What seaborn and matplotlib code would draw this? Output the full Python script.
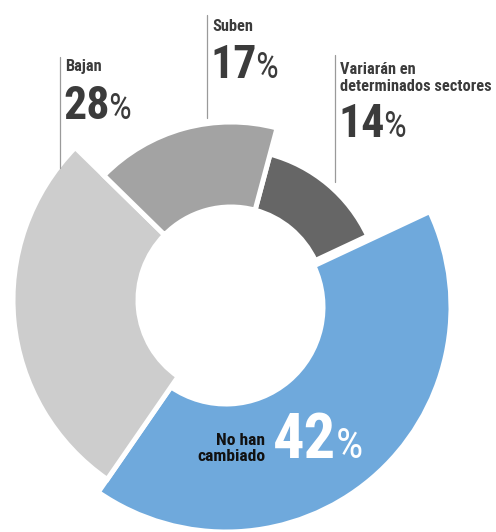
import matplotlib
matplotlib.use("Agg")
import matplotlib.pyplot as plt
from matplotlib import font_manager as fm
import seaborn as sns

# Respuestas: cómo han evolucionado los precios
categorias = ["Variarán en\ndeterminados sectores", "No han\ncambiado", "Bajan", "Suben"]
porcentajes = [14, 42, 28, 17]
etiquetas_pct = ["14", "42", "28", "17"]

sns.set_theme(style="white")

# narrow sans-serif for all labels, first one installed
_instaladas = {f.name for f in fm.fontManager.ttflist}
_preferidas = ["Roboto Condensed", "Archivo Narrow", "Barlow Semi Condensed",
               "PT Sans Narrow", "Liberation Sans Narrow"]
FUENTE = next((f for f in _preferidas if f in _instaladas), "DejaVu Sans")
plt.rcParams["font.family"] = [FUENTE, "DejaVu Sans"]

colores = ["#666666", "#6FA9DC", "#CDCDCD", "#A3A3A3"]
radios = [151, 225, 218, 178]      # outer radius of each ring segment (px)
r_int = 93                         # radius of the central hole (px)

W, H = 496, 532
fig = plt.figure(figsize=(W / 100, H / 100), dpi=100)
ax = fig.add_axes([0, 0, 1, 1])

cx, cy = 231, H - 300
wedges, _ = ax.pie(
    porcentajes,
    colors=colores,
    startangle=75,
    counterclock=False,
    center=(cx, cy),
    radius=max(radios),
    wedgeprops=dict(width=max(radios) - r_int, edgecolor="white", linewidth=3.6),
)
for w, r in zip(wedges, radios):
    w.set_radius(r)
    w.set_width(r - r_int)
# the blue segment sits slightly lower-left
wedges[1].set_center((cx - 5, cy - 7))
wedges[1].set_width(radios[1] - r_int - 4)

ax.set_xlim(0, W)
ax.set_ylim(0, H)
ax.set_aspect("equal")
ax.axis("off")

gris = "#3b3b3b"
SIZE_N = 11.8


def y(v):
    return H - v


numeros = []   # (number text, size of its % sign, colour)


def etiqueta(x, y_nombre, nombre, y_num, num, color=gris, size_num=33,
             size_pct=26):
    ax.text(x, y(y_nombre), nombre, ha="left", va="baseline", fontsize=SIZE_N,
            fontweight="semibold", color=color, linespacing=1.16)
    t = ax.text(x - 2, y(y_num), num, ha="left", va="baseline", fontsize=size_num,
                fontweight="bold", color=color)
    numeros.append((t, size_pct, color))


# leader lines
linea = dict(color="#9a9a9a", lw=0.9)
ax.plot([60, 60], [y(57), y(168)], **linea)
ax.plot([207, 207], [y(15), y(118)], **linea)
ax.plot([335, 335], [y(55), y(182)], **linea)

etiqueta(65, 71, categorias[2], 119, etiquetas_pct[2])
etiqueta(212, 31, categorias[3], 78, etiquetas_pct[3])
etiqueta(340, 91, categorias[0], 137, etiquetas_pct[0])

# label inside the blue segment
ax.text(265, y(461), categorias[1], ha="right", va="baseline", fontsize=SIZE_N + 0.8,
        fontweight="bold", color="#111111", linespacing=1.05)
t42 = ax.text(273, y(458), etiquetas_pct[1], ha="left", va="baseline",
              fontsize=45, fontweight="bold", color="white")
numeros.append((t42, 31, "white"))

# % signs sit right after each number, on the same baseline
fig.canvas.draw()
renderer = fig.canvas.get_renderer()
inv = ax.transData.inverted()
for t, size_pct, color in numeros:
    bb = t.get_window_extent(renderer)
    x_fin = inv.transform((bb.x1, bb.y0))[0]
    ax.text(x_fin - 1, t.get_position()[1], "%", ha="left", va="baseline",
            fontsize=size_pct, fontweight="normal", color=color)

fig.savefig("out.png", dpi=100, facecolor="white")
